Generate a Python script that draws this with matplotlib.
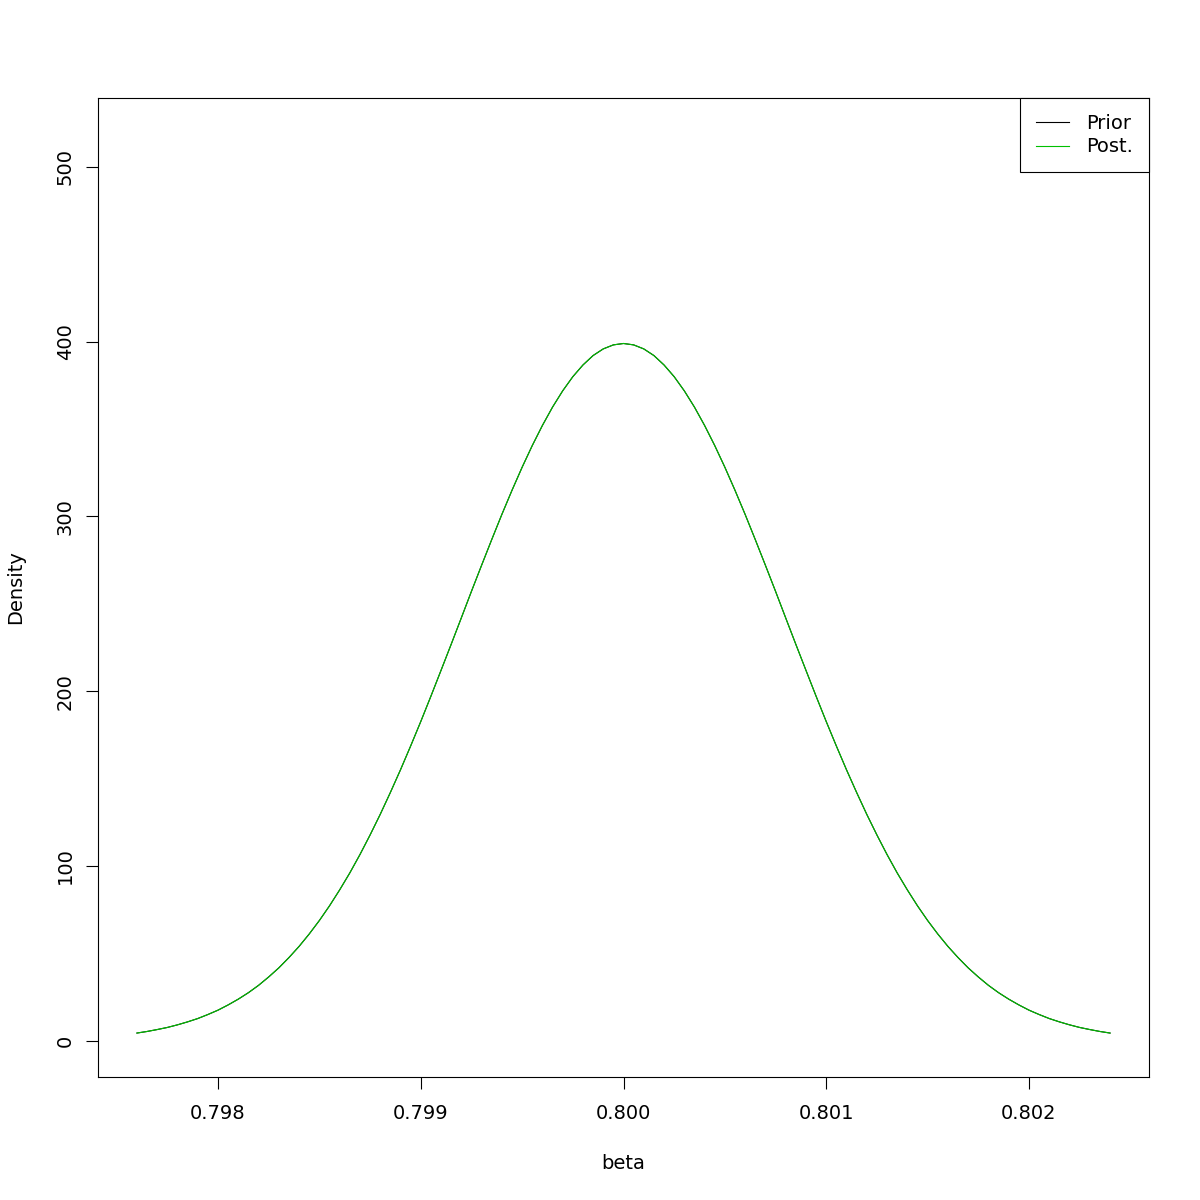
import matplotlib.pyplot as plt
import numpy as np

# values (prior and posterior coincide)
beta = [0.79760, 0.79765, 0.79770, 0.79775, 0.79780, 0.79785, 0.79790, 0.79795,
        0.79800, 0.79805, 0.79810, 0.79815, 0.79820, 0.79825, 0.79830, 0.79835,
        0.79840, 0.79845, 0.79850, 0.79855, 0.79860, 0.79865, 0.79870, 0.79875,
        0.79880, 0.79885, 0.79890, 0.79895, 0.79900, 0.79905, 0.79910, 0.79915,
        0.79920, 0.79925, 0.79930, 0.79935, 0.79940, 0.79945, 0.79950, 0.79955,
        0.79960, 0.79965, 0.79970, 0.79975, 0.79980, 0.79985, 0.79990, 0.79995,
        0.80000,
        0.80005, 0.80010, 0.80015, 0.80020, 0.80025, 0.80030, 0.80035, 0.80040,
        0.80045, 0.80050, 0.80055, 0.80060, 0.80065, 0.80070, 0.80075, 0.80080,
        0.80085, 0.80090, 0.80095, 0.80100, 0.80105, 0.80110, 0.80115, 0.80120,
        0.80125, 0.80130, 0.80135, 0.80140, 0.80145, 0.80150, 0.80155, 0.80160,
        0.80165, 0.80170, 0.80175, 0.80180, 0.80185, 0.80190, 0.80195, 0.80200,
        0.80205, 0.80210, 0.80215, 0.80220, 0.80225, 0.80230, 0.80235, 0.80240]
left_half = [4.4, 5.3, 6.4, 7.6, 9.1, 10.8, 12.7, 15.0, 17.5, 20.5, 23.8, 27.5,
             31.7, 36.5, 41.7, 47.6, 54.0, 61.1, 68.8, 77.2, 86.3, 96.0, 106.5,
             117.7, 129.5, 142.0, 155.0, 168.6, 182.6, 197.1, 211.9, 226.8, 241.9,
             257.1, 272.0, 286.7, 301.1, 314.9, 328.1, 340.5, 352.0, 362.5, 371.8,
             379.9, 386.6, 392.0, 395.8, 398.1]
peak = 398.9
prior = left_half + [peak] + left_half[::-1]
post = list(prior)

ylim_top = 518.6

fig = plt.figure(figsize=(12, 12), dpi=100)
ax = fig.add_axes([98 / 1200, 1 - 1077 / 1200, 1051 / 1200, 979 / 1200])

ax.plot(beta, prior, color='black', lw=0.8, label='Prior')
ax.plot(beta, post, color='#00C000', lw=0.8, label='Post.')

xr = beta[-1] - beta[0]
ax.set_xlim(beta[0] - 0.04 * xr, beta[-1] + 0.04 * xr)
ax.set_ylim(-0.04 * ylim_top, ylim_top * 1.04)

ax.set_xticks([0.798, 0.799, 0.800, 0.801, 0.802])
ax.set_xticklabels(['0.798', '0.799', '0.800', '0.801', '0.802'])
ax.set_yticks([0, 100, 200, 300, 400, 500])
ax.set_yticklabels(['0', '100', '200', '300', '400', '500'], rotation=90, va='center')

ax.tick_params(direction='out', length=8.6, width=0.8, labelsize=14, pad=11)
ax.tick_params(axis='y', pad=8)
for s in ax.spines.values():
    s.set_linewidth(0.8)

ax.set_xlabel('beta', fontsize=14, labelpad=22)
ax.set_ylabel('Density', fontsize=14, labelpad=22)

leg = ax.legend(loc='upper right', borderaxespad=0, fancybox=False, edgecolor='black',
                framealpha=1, fontsize=14, handlelength=1.7, borderpad=0.8,
                labelspacing=0.25, handletextpad=0.9)
leg.get_frame().set_linewidth(0.8)

fig.savefig('out.png', dpi=100)
